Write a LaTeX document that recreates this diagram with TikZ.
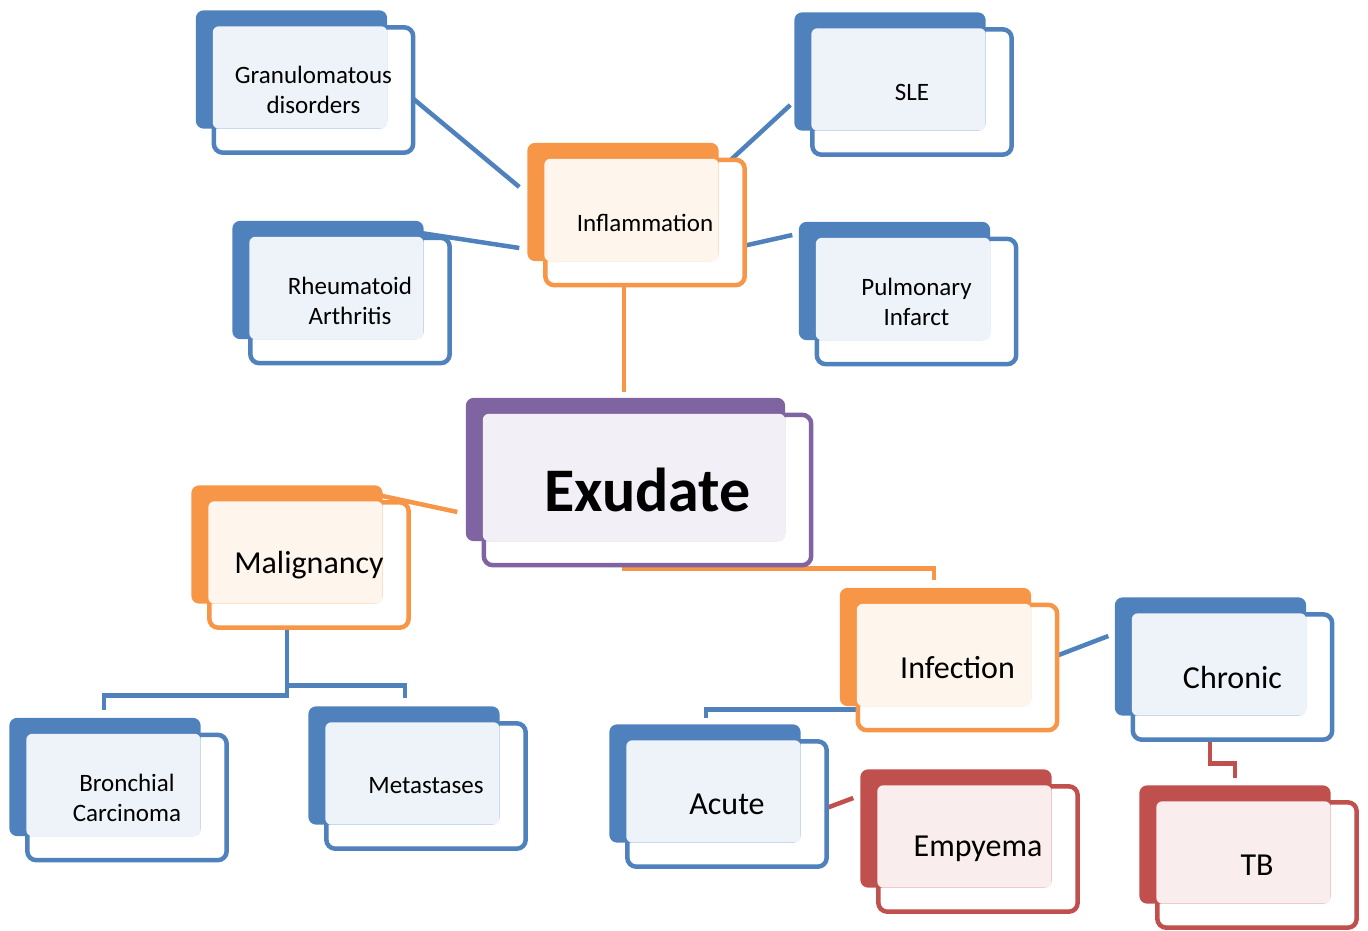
\documentclass[tikz,border=0pt]{standalone}
\usepackage{fontspec}
\setmainfont{Carlito}
\usepackage{tikz}
\usetikzlibrary{calc, backgrounds}
\definecolor{mblue}{HTML}{4F81BD}
\definecolor{morange}{HTML}{F79646}
\definecolor{mpurple}{HTML}{8064A2}
\definecolor{mred}{HTML}{C0504D}
\pgfdeclarelayer{lines}
\pgfsetlayers{lines,background,main}

\begin{document}
\begin{tikzpicture}[
    x=1pt, y=-1pt,
    card/.style={minimum width=199pt, minimum height=125pt, inner sep=0pt,
                 align=center, font=\fontsize{25}{30}\selectfont},
    bigcard/.style={card, font=\fontsize{32}{38}\selectfont},
    rootcard/.style={card, minimum width=327pt, minimum height=150pt,
                     font=\fontsize{62}{70}\selectfont\bfseries},
    link/.style={line width=4.5pt, #1}
]
    \useasboundingbox (0,0) rectangle (1368,931);

    \node[card] (gran) at (313.5,90) {Granulomatous\\disorders};
    \node[card] (sle) at (912,92) {SLE};
    \node[card] (infl) at (645,222.5) {Inflammation};
    \node[card] (rheu) at (350,300.5) {Rheumatoid\\Arthritis};
    \node[card] (pulm) at (916.5,301.5) {Pulmonary\\Infarct};
    \node[rootcard] (exud) at (647.5,490) {Exudate};
    \node[bigcard] (malig) at (309,565) {Malignancy};
    \node[card] (bron) at (127,797.5) {Bronchial\\Carcinoma};
    \node[card] (meta) at (426,786) {Metastases};
    \node[bigcard] (infe) at (957.5,667.5) {Infection};
    \node[bigcard] (chro) at (1232.5,677) {Chronic};
    \node[bigcard] (acut) at (727,804) {Acute};
    \node[bigcard] (empy) at (978,849) {Empyema};
    \node[bigcard] (tb) at (1257,865) {TB};

    % stacked cards behind the labels
    \begin{pgfonlayer}{background}
    \foreach \n/\c in {gran/mblue, sle/mblue, infl/morange, rheu/mblue, pulm/mblue,
                       exud/mpurple, malig/morange, bron/mblue, meta/mblue,
                       infe/morange, chro/mblue, acut/mblue, empy/mred, tb/mred} {
        \draw[\c, fill=white, line width=4.5pt, rounded corners=9pt]
            (\n.north west) rectangle (\n.south east);
        \fill[\c, rounded corners=8pt]
            ($(\n.north west)+(-18,-17)$) rectangle ($(\n.south east)+(-26,-24)$);
        \fill[\c!10, rounded corners=6pt]
            ($(\n.north west)+(-1,-1)$) rectangle ($(\n.south east)+(-26,-24)$);
    }
    \end{pgfonlayer}

    \begin{pgfonlayer}{lines}
    \draw[link=mblue] ($(gran.east)+(-16.5,-5)$) -- ($(infl.west)+(-26,-35.5)$);
    \draw[link=mblue] ($(rheu.north east)+(-40,-6.5)$) -- ($(infl.west)+(-26,25.5)$);
    \draw[link=mblue] ($(infl.north east)+(-23,8.5)$) -- ($(sle.west)+(-22,13)$);
    \draw[link=mblue] ($(infl.east)+(-15,26.5)$) -- ($(pulm.west)+(-24.5,-66.5)$);
    \draw[link=morange] ($(infl.south)+(-21,-15.5)$) -- ($(exud.north)+(-23.5,-22.5)$);
    \draw[link=morange] ($(malig.north east)+(-34,-8)$) -- ($(exud.west)+(-26.5,22)$);
    \draw[link=morange] ($(exud.south)+(-23.5,-20.5)$) |- ($(infe.north)+(-23.5,-36.5)$)
        -- ($(infe.north)+(-23.5,-24.5)$);
    \draw[link=mblue] ($(malig.south)+(-22,-18)$) |- ($(bron.north)+(-23,-39.5)$)
        -- ($(bron.north)+(-23,-24.5)$);
    \draw[link=mblue] ($(malig.south)+(-22,-18)$) |- ($(meta.north)+(-21,-38)$)
        -- ($(meta.north)+(-21,-25)$);
    \draw[link=mblue] ($(infe.south)+(-19.5,-20.5)$) -| ($(acut.north)+(-21,-23)$);
    \draw[link=mblue] ($(infe.east)+(-32.5,0.5)$) -- ($(chro.west)+(-24.5,-41)$);
    \draw[link=mred] ($(acut.east)+(-27,14)$) -- ($(empy.west)+(-25,-51)$);
    \draw[link=mred] ($(chro.south)+(-22.5,-17)$) |- ($(tb.north)+(-22,-39)$)
        -- ($(tb.north)+(-22,-24)$);
    \end{pgfonlayer}
\end{tikzpicture}
\end{document}
